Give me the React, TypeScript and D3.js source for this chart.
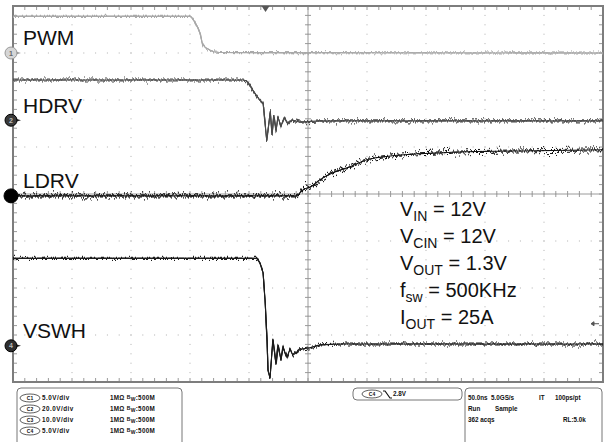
import React from "react";
import * as d3 from "d3";

// scope screen: 10 x 50ns horizontal, 8 vertical divisions
const timeDomain = [0, 500];
const divDomain = [-4, 4];

// channel settings: volts per div and ground marker position (divisions from centre)
const channelNames = ["PWM", "HDRV", "LDRV", "VSWH"];
const voltsPerDiv = [5, 20, 10, 5];
const groundDiv = [3.0, 1.57, -0.04, -3.23];
const traceColors = ["#a9a9a9", "#4a4a4a", "#111111", "#1c1c1c"];
const noiseScale = [7, 10, 17, 10];

// [time ns, volts]
const pwmPoints = [[0, 3.9], [150, 3.9], [154, 3.3], [158.5, 2.1], [161, 0.85], [167, 0.3], [175, 0.05], [500, 0]];
const hdrvPoints = [[0, 17.1], [195, 17.1], [198, 16.7], [203, 12.9], [209, 8.6], [212, 7.3], [215, -8.4], [218, 3.5], [219.5, -6.3], [221, 2.2], [223, -4.2], [224.5, 1.4], [227, -2.5], [229.7, 0.9], [233, -1.6], [236.4, 0.1], [243, -0.8], [260, -0.3], [500, -0.3]];
const ldrvPoints = [[0, 0], [240, 0], [243, 0.6], [246, 1.3], [252, 1.9], [260, 3.4], [271, 4.9], [285.6, 6.2], [300, 7.7], [313.6, 8.3], [328, 8.7], [356, 9.1], [385, 9.4], [440.7, 9.6], [500, 9.8]];
const vswhPoints = [[0, 9.3], [206.8, 9.3], [209.3, 8.8], [211.9, 7.8], [213.6, 4.9], [215.3, 0.64], [216.1, -2.55], [217.8, -3.4], [220.3, 0.64], [222.9, -2.0], [224.6, 0.1], [227.1, -1.5], [228.8, -0.2], [232.2, -1.2], [234.7, -0.4], [237.3, -1.0], [243.2, -0.4], [251.7, -0.2], [260.2, 0.1], [277.1, 0.2], [500, 0.2]];
const tracePoints = [pwmPoints, hdrvPoints, ldrvPoints, vswhPoints];

const triggerTime = 214;
const triggerLevel = 2.35;

const conditions = [
  ["V", "IN", " = 12V"],
  ["V", "CIN", " = 12V"],
  ["V", "OUT", " = 1.3V"],
  ["f", "sw", " = 500KHz"],
  ["I", "OUT", " = 25A"],
];

const chanRows = [
  ["C1", "5.0V/div"],
  ["C2", "20.0V/div"],
  ["C3", "10.0V/div"],
  ["C4", "5.0V/div"],
];
const acqRows = [
  [["50.0ns", 468], ["5.0GS/s", 491], ["IT", 539], ["100ps/pt", 555]],
  [["Run", 468], ["Sample", 495]],
  [["362 acqs", 468], ["RL:5.0k", 563]],
];

export default function App() {
  const left = 13, right = 603, top = 6, bottom = 382;
  const x = d3.scaleLinear().domain(timeDomain).range([left, right]);
  const yd = d3.scaleLinear().domain(divDomain).range([bottom, top]);
  const yOf = (ch, v) => yd(v / voltsPerDiv[ch] + groundDiv[ch]);

  const majorX = d3.range(0, 501, 50);
  const majorY = d3.range(-4, 4.01, 1);
  const minorX = d3.range(0, 501, 10);
  const minorY = d3.range(-4, 4.01, 0.2);

  const dots = [];
  majorY.slice(1, -1).forEach((d) => minorX.forEach((t) => dots.push([x(t), yd(d)])));
  majorX.slice(1, -1).forEach((t) => minorY.forEach((d) => dots.push([x(t), yd(d)])));

  const font = "Liberation Sans, Arial, sans-serif";
  const labelY = [45, 113, 188, 338];

  return (
    <svg width={605} height={442} style={{ position: "absolute", left: 0, top: 0, background: "#fff" }} fontFamily={font}>
      <defs>
        {noiseScale.map((s, i) => (
          <filter key={i} id={"noise" + i} filterUnits="userSpaceOnUse" x={0} y={0} width={605} height={442} colorInterpolationFilters="sRGB">
            <feTurbulence type="fractalNoise" baseFrequency="0.55 0.004" numOctaves={2} seed={i * 7 + 3} result="t" />
            <feColorMatrix in="t" type="matrix" values="0 0 0 0 0.5  0 1 0 0 0  0 0 1 0 0  0 0 0 0 1" result="m" />
            <feDisplacementMap in="SourceGraphic" in2="m" scale={s} xChannelSelector="R" yChannelSelector="G" result="d1" />
            <feTurbulence type="fractalNoise" baseFrequency="0.9 0.004" numOctaves={1} seed={i * 11 + 5} result="t2" />
            <feColorMatrix in="t2" type="matrix" values="0 0 0 0 0.5  0 1 0 0 0  0 0 1 0 0  0 0 0 0 1" result="m2" />
            <feDisplacementMap in="SourceGraphic" in2="m2" scale={s * 0.6} xChannelSelector="R" yChannelSelector="G" result="d2" />
            <feMerge>
              <feMergeNode in="SourceGraphic" />
              <feMergeNode in="d2" />
              <feMergeNode in="d1" />
            </feMerge>
          </filter>
        ))}
      </defs>

      {/* grid dots */}
      <g fill="#b0b0b0">
        {dots.map((p, i) => (
          <rect key={i} x={p[0] - 0.5} y={p[1] - 0.5} width={1} height={1} />
        ))}
      </g>

      {/* centre crosshair with ticks */}
      <g stroke="#9a9a9a" strokeWidth={1}>
        <line x1={left} x2={right} y1={yd(0)} y2={yd(0)} />
        <line x1={x(250)} x2={x(250)} y1={top} y2={bottom} />
        {minorX.map((t) => (
          <line key={"cx" + t} x1={x(t)} x2={x(t)} y1={yd(0) - 3} y2={yd(0) + 3} />
        ))}
        {minorY.map((d) => (
          <line key={"cy" + d} x1={x(250) - 3} x2={x(250) + 3} y1={yd(d)} y2={yd(d)} />
        ))}
        {minorX.map((t) => (
          <g key={"ex" + t}>
            <line x1={x(t)} x2={x(t)} y1={top} y2={top + 4} />
            <line x1={x(t)} x2={x(t)} y1={bottom} y2={bottom - 4} />
          </g>
        ))}
        {minorY.map((d) => (
          <g key={"ey" + d}>
            <line x1={left} x2={left + 4} y1={yd(d)} y2={yd(d)} />
            <line x1={right} x2={right - 4} y1={yd(d)} y2={yd(d)} />
          </g>
        ))}
      </g>
      <rect x={left} y={top} width={right - left} height={bottom - top} fill="none" stroke="#7d7d7d" strokeWidth={2} />

      {/* traces */}
      {tracePoints.map((pts, i) => {
        const line = d3
          .line()
          .x((d) => x(d[0]))
          .y((d) => yOf(i, d[1]))
          .curve(i === 0 || i === 2 ? d3.curveMonotoneX : d3.curveLinear);
        return (
          <path key={i} d={line(pts)} fill="none" stroke={traceColors[i]} strokeWidth={1.1} filter={`url(#noise${i})`} />
        );
      })}

      {/* channel labels */}
      {channelNames.map((n, i) => (
        <text key={n} x={23} y={labelY[i]} fontSize={21} fill="#111">
          {n}
        </text>
      ))}

      {/* ground markers */}
      {channelNames.map((n, i) => {
        const cy = yOf(i, 0);
        const fills = ["#d6d6d6", "#3a3a3a", "#000", "#2e2e2e"];
        const r = i === 2 ? 7 : 6;
        return (
          <g key={"m" + n}>
            <path d={`M${11},${cy - 3}L${21},${cy}L${11},${cy + 3}Z`} fill={i === 0 ? "#999" : "#222"} />
            <circle cx={11} cy={cy} r={r} fill={fills[i]} stroke={i === 0 ? "#999" : "#000"} strokeWidth={1} />
            {i !== 2 && (
              <text x={11} y={cy + 2.5} fontSize={7} textAnchor="middle" fill={i === 0 ? "#666" : "#bbb"} fontWeight="bold">
                {i + 1}
              </text>
            )}
          </g>
        );
      })}

      {/* trigger position and level */}
      <path d={`M${x(triggerTime) - 4},${top}L${x(triggerTime) + 4},${top}L${x(triggerTime)},${top + 6}Z`} fill="#555" />
      <g stroke="#555" fill="#555">
        <line x1={592} x2={599} y1={yOf(3, triggerLevel)} y2={yOf(3, triggerLevel)} strokeWidth={1} />
        <path d={`M${591},${yOf(3, triggerLevel)}L${594},${yOf(3, triggerLevel) - 2}L${594},${yOf(3, triggerLevel) + 2}Z`} />
      </g>

      {/* operating conditions */}
      {conditions.map((c, i) => (
        <text key={i} x={400} y={216 + i * 27} fontSize={20} fill="#111">
          {c[0]}
          <tspan fontSize={14} dy={5}>
            {c[1]}
          </tspan>
          <tspan fontSize={20} dy={-5}>
            {c[2]}
          </tspan>
        </text>
      ))}

      {/* info panel */}
      <g fontSize={6.3} fontWeight="bold" fill="#111">
        <rect x={17} y={388} width={165} height={60} rx={4} fill="none" stroke="#777" />
        {chanRows.map((r, i) => {
          const cy = 398 + i * 11;
          return (
            <g key={r[0]}>
              <ellipse cx={30} cy={cy} rx={10} ry={4} fill="#fff" stroke="#333" strokeWidth={0.8} />
              <text x={30} y={cy + 2} fontSize={5} textAnchor="middle">{r[0]}</text>
              <text x={42} y={cy + 2.3} letterSpacing={0.5}>{r[1]}</text>
              <text x={110} y={cy + 2.3} letterSpacing={0.3}>
                1MΩ <tspan fontSize={5} dy={-1.5}>B</tspan>
                <tspan fontSize={5} dy={2.5}>W</tspan>
                <tspan dy={-1}>:500M</tspan>
              </text>
            </g>
          );
        })}
        <rect x={353} y={388} width={109} height={12} rx={4} fill="none" stroke="#777" />
        <ellipse cx={372} cy={394} rx={10} ry={4} fill="#fff" stroke="#333" strokeWidth={0.8} />
        <text x={372} y={396} fontSize={5} textAnchor="middle">C4</text>
        <path d="M383,391L385,391L390,398L392,398" fill="none" stroke="#111" strokeWidth={1.2} />
        <text x={393} y={396.3}>2.8V</text>
        <rect x={465} y={388} width={137} height={60} rx={4} fill="none" stroke="#777" />
        {acqRows.map((row, i) =>
          row.map((c) => (
            <text key={c[0]} x={c[1]} y={400.3 + i * 11}>
              {c[0]}
            </text>
          ))
        )}
      </g>
    </svg>
  );
}
